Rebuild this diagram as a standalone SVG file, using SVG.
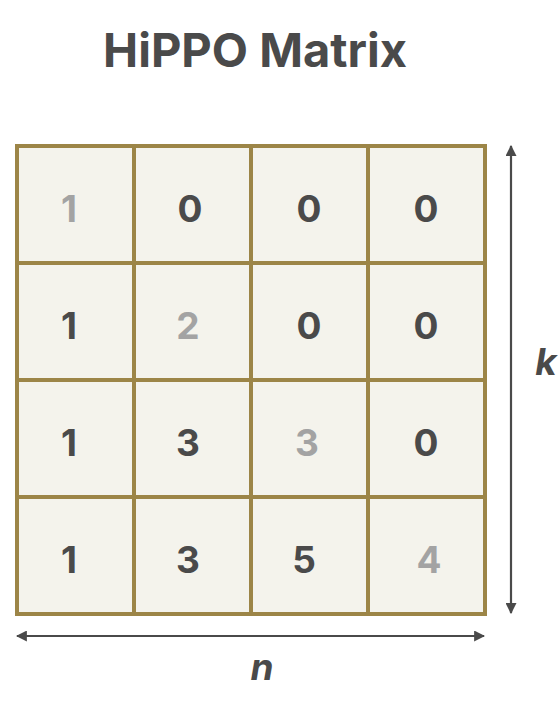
<svg xmlns="http://www.w3.org/2000/svg" width="558" height="708" viewBox="0 0 558 708">
<style>
.cell{fill:#f4f3ec;stroke:#9c8547;stroke-width:4}
.v{font-family:Inter,"Liberation Sans",sans-serif;font-weight:700;font-size:37px;text-anchor:middle;fill:#4a4a4a}
.d{fill:#a3a3a3}
.title{font-family:Inter,"Liberation Sans",sans-serif;font-weight:700;font-size:47px;text-anchor:middle;fill:#4a4a4a}
.lab{font-family:Inter,"Liberation Sans",sans-serif;font-weight:700;font-style:italic;font-size:37px;text-anchor:middle;fill:#4a4a4a}
.arr{stroke:#4a4a4a;stroke-width:2.2;fill:none;marker-start:url(#ah);marker-end:url(#ah)}
</style>
<defs>
<marker id="ah" viewBox="0 0 10 10" refX="9" refY="5" markerWidth="5" markerHeight="5" orient="auto-start-reverse" markerUnits="strokeWidth">
<path d="M0,0 L10,5 L0,10 z" fill="#4a4a4a"/>
</marker>
</defs>
<rect width="558" height="708" fill="#ffffff"/>
<text class="title" x="255" y="67">HiPPO Matrix</text>
<g id="matrix">
<g id="r1">
<rect class="cell" x="17" y="146" width="117" height="117"/>
<rect class="cell" x="134" y="146" width="117" height="117"/>
<rect class="cell" x="251" y="146" width="117" height="117"/>
<rect class="cell" x="368" y="146" width="117" height="117"/>
<text class="v d" x="69" y="222">1</text>
<text class="v" x="190" y="222">0</text>
<text class="v" x="309" y="222">0</text>
<text class="v" x="426" y="222">0</text>
</g>
<g id="r2">
<rect class="cell" x="17" y="263" width="117" height="117"/>
<rect class="cell" x="134" y="263" width="117" height="117"/>
<rect class="cell" x="251" y="263" width="117" height="117"/>
<rect class="cell" x="368" y="263" width="117" height="117"/>
<text class="v" x="69" y="339">1</text>
<text class="v d" x="188" y="339">2</text>
<text class="v" x="309" y="339">0</text>
<text class="v" x="426" y="339">0</text>
</g>
<g id="r3">
<rect class="cell" x="17" y="380" width="117" height="117"/>
<rect class="cell" x="134" y="380" width="117" height="117"/>
<rect class="cell" x="251" y="380" width="117" height="117"/>
<rect class="cell" x="368" y="380" width="117" height="117"/>
<text class="v" x="69" y="456">1</text>
<text class="v" x="188" y="456">3</text>
<text class="v d" x="307" y="456">3</text>
<text class="v" x="426" y="456">0</text>
</g>
<g id="r4">
<rect class="cell" x="17" y="497" width="117" height="117"/>
<rect class="cell" x="134" y="497" width="117" height="117"/>
<rect class="cell" x="251" y="497" width="117" height="117"/>
<rect class="cell" x="368" y="497" width="117" height="117"/>
<text class="v" x="69" y="573">1</text>
<text class="v" x="188" y="573">3</text>
<text class="v" x="304" y="573">5</text>
<text class="v d" x="429" y="573">4</text>
</g>
</g>
<g id="connectors">
<line class="arr" x1="511" y1="146" x2="511" y2="613"/>
<line class="arr" x1="17" y1="636" x2="484" y2="636"/>
</g>
<g id="labels">
<text class="lab" x="546" y="375">k</text>
<text class="lab" x="262" y="680">n</text>
</g>
</svg>
